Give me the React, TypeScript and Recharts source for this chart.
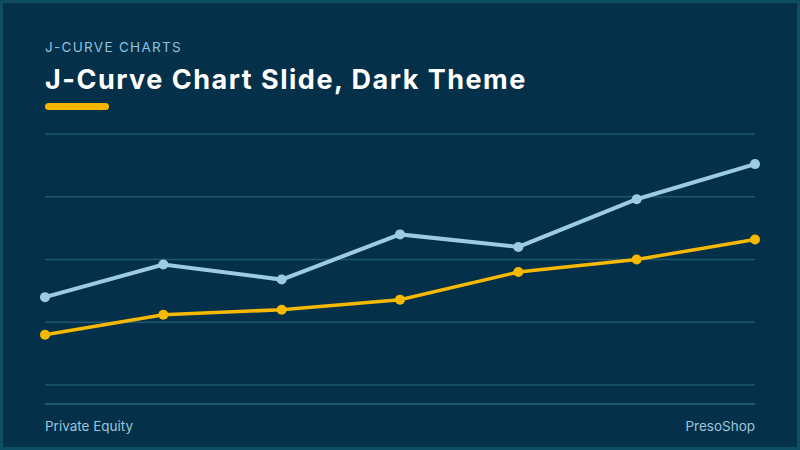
import { LineChart, Line, XAxis, YAxis, CartesianGrid } from "recharts";

const periods = ["Y1", "Y2", "Y3", "Y4", "Y5", "Y6", "Y7"];
const upperSeries = [35, 48, 42, 60, 55, 74, 88];
const lowerSeries = [20, 28, 30, 34, 45, 50, 58];
const valueTicks = [0, 25, 50, 75, 100];

const data = periods.map((p, i) => ({
  period: p,
  upper: upperSeries[i],
  lower: lowerSeries[i],
}));

const font = "Inter, 'Noto Sans', sans-serif";

export default function App() {
  return (
    <div
      style={{
        position: "absolute",
        top: 0,
        left: 0,
        width: 800,
        height: 450,
        boxSizing: "border-box",
        background: "#04304a",
        border: "3px solid #0f4d62",
        fontFamily: font,
        overflow: "hidden",
      }}
    >
      <div
        style={{
          position: "absolute",
          left: 42,
          top: 36,
          fontSize: 13.5,
          letterSpacing: 1.3,
          color: "#8ec3de",
        }}
      >
        J-CURVE CHARTS
      </div>
      <div
        style={{
          position: "absolute",
          left: 42,
          top: 60,
          fontSize: 27,
          fontWeight: 700,
          color: "#ffffff",
          letterSpacing: 1.5,
        }}
      >
        J-Curve Chart Slide, Dark Theme
      </div>
      <div
        style={{
          position: "absolute",
          left: 42,
          top: 100,
          width: 64,
          height: 7,
          borderRadius: 4,
          background: "#f7b500",
        }}
      />
      <div style={{ position: "absolute", left: -3, top: -3 }}>
        <LineChart
          width={800}
          height={450}
          data={data}
          margin={{ top: 134, right: 45, bottom: 65, left: 45 }}
        >
          <CartesianGrid
            vertical={false}
            stroke="#1d566e"
            strokeWidth={1.5}
          />
          <XAxis dataKey="period" hide padding={{ left: 0, right: 0 }} />
          <YAxis hide domain={[0, 100]} ticks={valueTicks} />
          <Line
            type="linear"
            dataKey="upper"
            stroke="#9ccce4"
            strokeWidth={4}
            dot={{ r: 5, fill: "#9ccce4", stroke: "#9ccce4", strokeWidth: 0 }}
            isAnimationActive={false}
          />
          <Line
            type="linear"
            dataKey="lower"
            stroke="#f7b800"
            strokeWidth={3.5}
            dot={{ r: 5, fill: "#f7b800", stroke: "#f7b800", strokeWidth: 0 }}
            isAnimationActive={false}
          />
        </LineChart>
      </div>
      <div
        style={{
          position: "absolute",
          left: 42,
          top: 400,
          width: 710,
          height: 2,
          background: "#1d566e",
        }}
      />
      <div
        style={{
          position: "absolute",
          left: 42,
          top: 415,
          fontSize: 13.5,
          color: "#9cc5da",
        }}
      >
        Private Equity
      </div>
      <div
        style={{
          position: "absolute",
          right: 42,
          top: 415,
          fontSize: 13.5,
          color: "#9cc5da",
        }}
      >
        PresoShop
      </div>
    </div>
  );
}
